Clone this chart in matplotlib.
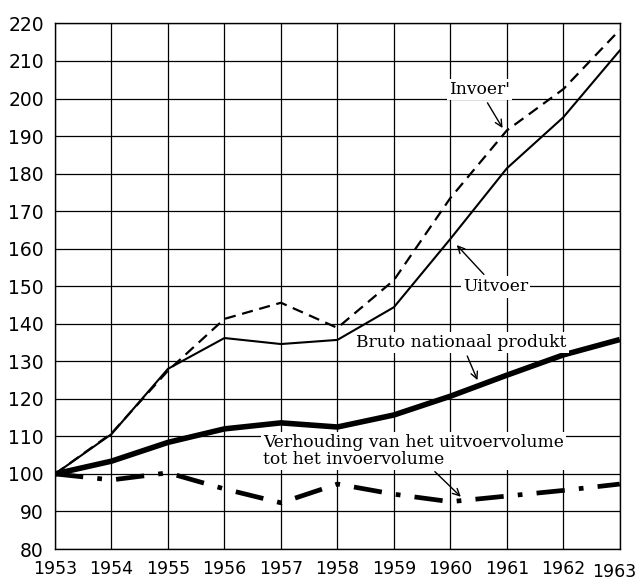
import matplotlib.pyplot as plt
from matplotlib.transforms import ScaledTranslation

# jaren en indexcijfers (1953 = 100)
jaren = [1953, 1954, 1955, 1956, 1957, 1958, 1959, 1960, 1961, 1962, 1963]
invoer = [100, 110.8, 127.5, 141.3, 145.6, 138.9, 151.6, 173.5, 191.5, 202.5, 218.3]
uitvoer = [100, 110.6, 128, 136.2, 134.6, 135.7, 144.4, 162.6, 181.4, 195, 212.8]
bnp = [100, 103.4, 108.4, 112, 113.6, 112.5, 115.7, 120.7, 126.3, 131.7, 135.8]
verhouding = [100, 98.4, 100.3, 96, 92.3, 97.3, 94.6, 92.6, 94.1, 95.6, 97.3]

y_ticks = list(range(80, 221, 10))

fig = plt.figure(figsize=(6.36, 5.82), dpi=100)
ax = fig.add_axes([0.0865, 0.0567, 0.888, 0.903])

ax.plot(jaren, invoer, color='black', lw=1.6, ls=(0, (5, 3)), zorder=3)
ax.plot(jaren, uitvoer, color='black', lw=1.5, zorder=3)
ax.plot(jaren, bnp, color='black', lw=4, solid_capstyle='butt', zorder=3)
ax.plot(jaren, verhouding, color='black', lw=3.4, ls=(0, (6, 3, 1, 3)), zorder=3)

ax.set_xlim(1953, 1963)
ax.set_ylim(80, 220)
ax.set_xticks(jaren)
ax.set_yticks(y_ticks)
ax.grid(True, color='black', lw=0.9)
ax.tick_params(length=0, pad=8)
ax.tick_params(axis='y', labelsize=13.5)
ax.tick_params(axis='x', labelsize=12.5)
for s in ax.spines.values():
    s.set_linewidth(1.0)
# laatste jaartal iets naar links/onder zodat het binnen het beeld valt
lbl = ax.get_xticklabels()[-1]
lbl.set_transform(lbl.get_transform() + ScaledTranslation(-0.06, -0.03, fig.dpi_scale_trans))

serif = dict(family='DejaVu Serif', fontsize=12.3, color='black')
box = dict(facecolor='white', edgecolor='none', pad=1.5)
pijl = dict(arrowstyle='->', color='black', lw=1.0)

ax.annotate("Invoer'", xy=(1960.95, 191.5), xytext=(1960.52, 202.3), ha='center', va='center',
            bbox=box, arrowprops=pijl, **serif)
ax.annotate("Uitvoer", xy=(1960.08, 161.5), xytext=(1960.8, 149.8), ha='center', va='center',
            bbox=box, arrowprops=pijl, **serif)
ax.annotate("Bruto nationaal produkt", xy=(1960.5, 124.3), xytext=(1960.2, 134.9), ha='center', va='center',
            bbox=box, arrowprops=pijl, **serif)
ax.annotate("Verhouding van het uitvoervolume\ntot het invoervolume", xy=(1960.22, 93.4),
            xytext=(1956.68, 106.2), ha='left', va='center', linespacing=1.0,
            bbox=box, arrowprops=pijl, **serif)

fig.savefig('out.png', dpi=100)
